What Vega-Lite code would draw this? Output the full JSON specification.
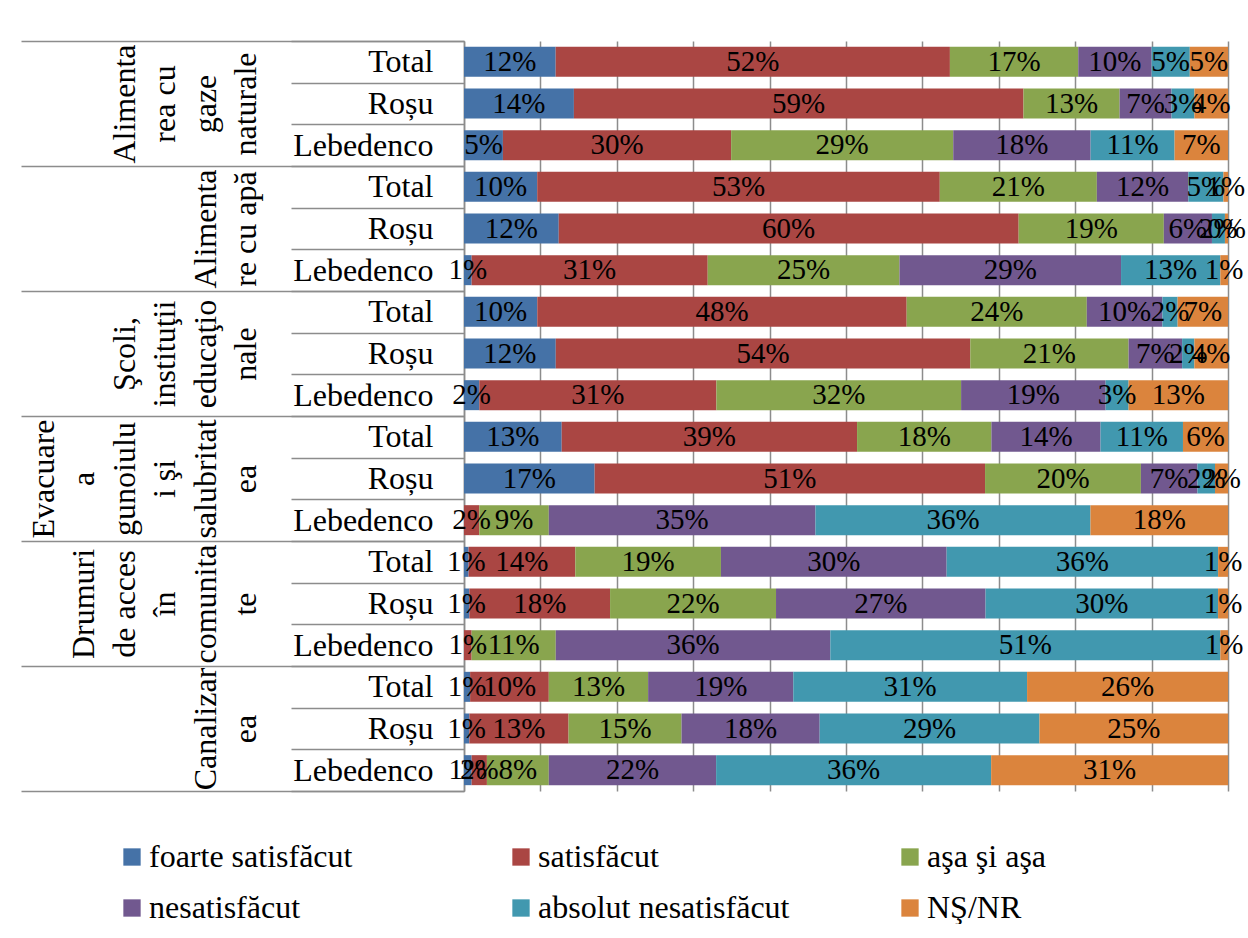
{
  "$schema": "https://vega.github.io/schema/vega-lite/v6.json",
  "width": 764,
  "height": 750,
  "padding": {"left": 20, "top": 25, "right": 0, "bottom": 0},
  "background": "white",
  "config": {
    "view": {"stroke": null},
    "font": "Liberation Serif",
    "legend": {"labelFont": "Liberation Serif"}
  },
  "data": {
    "values": [
      {"c": "Alimentarea cu gaze naturale", "s": "Total", "k": "Total|1", "r": "foarte satisfăcut", "o": 1, "v": 0.120},
      {"c": "Alimentarea cu gaze naturale", "s": "Total", "k": "Total|1", "r": "satisfăcut", "o": 2, "v": 0.516},
      {"c": "Alimentarea cu gaze naturale", "s": "Total", "k": "Total|1", "r": "aşa şi aşa", "o": 3, "v": 0.168},
      {"c": "Alimentarea cu gaze naturale", "s": "Total", "k": "Total|1", "r": "nesatisfăcut", "o": 4, "v": 0.096},
      {"c": "Alimentarea cu gaze naturale", "s": "Total", "k": "Total|1", "r": "absolut nesatisfăcut", "o": 5, "v": 0.050},
      {"c": "Alimentarea cu gaze naturale", "s": "Total", "k": "Total|1", "r": "NŞ/NR", "o": 6, "v": 0.050},
      {"c": "Alimentarea cu gaze naturale", "s": "Roșu", "k": "Roșu|1", "r": "foarte satisfăcut", "o": 1, "v": 0.144},
      {"c": "Alimentarea cu gaze naturale", "s": "Roșu", "k": "Roșu|1", "r": "satisfăcut", "o": 2, "v": 0.589},
      {"c": "Alimentarea cu gaze naturale", "s": "Roșu", "k": "Roșu|1", "r": "aşa şi aşa", "o": 3, "v": 0.126},
      {"c": "Alimentarea cu gaze naturale", "s": "Roșu", "k": "Roșu|1", "r": "nesatisfăcut", "o": 4, "v": 0.068},
      {"c": "Alimentarea cu gaze naturale", "s": "Roșu", "k": "Roșu|1", "r": "absolut nesatisfăcut", "o": 5, "v": 0.030},
      {"c": "Alimentarea cu gaze naturale", "s": "Roșu", "k": "Roșu|1", "r": "NŞ/NR", "o": 6, "v": 0.044},
      {"c": "Alimentarea cu gaze naturale", "s": "Lebedenco", "k": "Lebedenco|1", "r": "foarte satisfăcut", "o": 1, "v": 0.051},
      {"c": "Alimentarea cu gaze naturale", "s": "Lebedenco", "k": "Lebedenco|1", "r": "satisfăcut", "o": 2, "v": 0.299},
      {"c": "Alimentarea cu gaze naturale", "s": "Lebedenco", "k": "Lebedenco|1", "r": "aşa şi aşa", "o": 3, "v": 0.291},
      {"c": "Alimentarea cu gaze naturale", "s": "Lebedenco", "k": "Lebedenco|1", "r": "nesatisfăcut", "o": 4, "v": 0.180},
      {"c": "Alimentarea cu gaze naturale", "s": "Lebedenco", "k": "Lebedenco|1", "r": "absolut nesatisfăcut", "o": 5, "v": 0.110},
      {"c": "Alimentarea cu gaze naturale", "s": "Lebedenco", "k": "Lebedenco|1", "r": "NŞ/NR", "o": 6, "v": 0.070},

      {"c": "Alimentare cu apă", "s": "Total", "k": "Total|2", "r": "foarte satisfăcut", "o": 1, "v": 0.096},
      {"c": "Alimentare cu apă", "s": "Total", "k": "Total|2", "r": "satisfăcut", "o": 2, "v": 0.528},
      {"c": "Alimentare cu apă", "s": "Total", "k": "Total|2", "r": "aşa şi aşa", "o": 3, "v": 0.206},
      {"c": "Alimentare cu apă", "s": "Total", "k": "Total|2", "r": "nesatisfăcut", "o": 4, "v": 0.120},
      {"c": "Alimentare cu apă", "s": "Total", "k": "Total|2", "r": "absolut nesatisfăcut", "o": 5, "v": 0.046},
      {"c": "Alimentare cu apă", "s": "Total", "k": "Total|2", "r": "NŞ/NR", "o": 6, "v": 0.006},
      {"c": "Alimentare cu apă", "s": "Roșu", "k": "Roșu|2", "r": "foarte satisfăcut", "o": 1, "v": 0.124},
      {"c": "Alimentare cu apă", "s": "Roșu", "k": "Roșu|2", "r": "satisfăcut", "o": 2, "v": 0.602},
      {"c": "Alimentare cu apă", "s": "Roșu", "k": "Roșu|2", "r": "aşa şi aşa", "o": 3, "v": 0.190},
      {"c": "Alimentare cu apă", "s": "Roșu", "k": "Roșu|2", "r": "nesatisfăcut", "o": 4, "v": 0.063},
      {"c": "Alimentare cu apă", "s": "Roșu", "k": "Roșu|2", "r": "absolut nesatisfăcut", "o": 5, "v": 0.017},
      {"c": "Alimentare cu apă", "s": "Roșu", "k": "Roșu|2", "r": "NŞ/NR", "o": 6, "v": 0.004},
      {"c": "Alimentare cu apă", "s": "Lebedenco", "k": "Lebedenco|2", "r": "foarte satisfăcut", "o": 1, "v": 0.010},
      {"c": "Alimentare cu apă", "s": "Lebedenco", "k": "Lebedenco|2", "r": "satisfăcut", "o": 2, "v": 0.309},
      {"c": "Alimentare cu apă", "s": "Lebedenco", "k": "Lebedenco|2", "r": "aşa şi aşa", "o": 3, "v": 0.251},
      {"c": "Alimentare cu apă", "s": "Lebedenco", "k": "Lebedenco|2", "r": "nesatisfăcut", "o": 4, "v": 0.290},
      {"c": "Alimentare cu apă", "s": "Lebedenco", "k": "Lebedenco|2", "r": "absolut nesatisfăcut", "o": 5, "v": 0.130},
      {"c": "Alimentare cu apă", "s": "Lebedenco", "k": "Lebedenco|2", "r": "NŞ/NR", "o": 6, "v": 0.010},

      {"c": "Şcoli, instituţii educaţionale", "s": "Total", "k": "Total|3", "r": "foarte satisfăcut", "o": 1, "v": 0.096},
      {"c": "Şcoli, instituţii educaţionale", "s": "Total", "k": "Total|3", "r": "satisfăcut", "o": 2, "v": 0.484},
      {"c": "Şcoli, instituţii educaţionale", "s": "Total", "k": "Total|3", "r": "aşa şi aşa", "o": 3, "v": 0.236},
      {"c": "Şcoli, instituţii educaţionale", "s": "Total", "k": "Total|3", "r": "nesatisfăcut", "o": 4, "v": 0.099},
      {"c": "Şcoli, instituţii educaţionale", "s": "Total", "k": "Total|3", "r": "absolut nesatisfăcut", "o": 5, "v": 0.020},
      {"c": "Şcoli, instituţii educaţionale", "s": "Total", "k": "Total|3", "r": "NŞ/NR", "o": 6, "v": 0.066},
      {"c": "Şcoli, instituţii educaţionale", "s": "Roșu", "k": "Roșu|3", "r": "foarte satisfăcut", "o": 1, "v": 0.120},
      {"c": "Şcoli, instituţii educaţionale", "s": "Roșu", "k": "Roșu|3", "r": "satisfăcut", "o": 2, "v": 0.542},
      {"c": "Şcoli, instituţii educaţionale", "s": "Roșu", "k": "Roșu|3", "r": "aşa şi aşa", "o": 3, "v": 0.207},
      {"c": "Şcoli, instituţii educaţionale", "s": "Roșu", "k": "Roșu|3", "r": "nesatisfăcut", "o": 4, "v": 0.070},
      {"c": "Şcoli, instituţii educaţionale", "s": "Roșu", "k": "Roșu|3", "r": "absolut nesatisfăcut", "o": 5, "v": 0.016},
      {"c": "Şcoli, instituţii educaţionale", "s": "Roșu", "k": "Roșu|3", "r": "NŞ/NR", "o": 6, "v": 0.044},
      {"c": "Şcoli, instituţii educaţionale", "s": "Lebedenco", "k": "Lebedenco|3", "r": "foarte satisfăcut", "o": 1, "v": 0.020},
      {"c": "Şcoli, instituţii educaţionale", "s": "Lebedenco", "k": "Lebedenco|3", "r": "satisfăcut", "o": 2, "v": 0.310},
      {"c": "Şcoli, instituţii educaţionale", "s": "Lebedenco", "k": "Lebedenco|3", "r": "aşa şi aşa", "o": 3, "v": 0.320},
      {"c": "Şcoli, instituţii educaţionale", "s": "Lebedenco", "k": "Lebedenco|3", "r": "nesatisfăcut", "o": 4, "v": 0.189},
      {"c": "Şcoli, instituţii educaţionale", "s": "Lebedenco", "k": "Lebedenco|3", "r": "absolut nesatisfăcut", "o": 5, "v": 0.030},
      {"c": "Şcoli, instituţii educaţionale", "s": "Lebedenco", "k": "Lebedenco|3", "r": "NŞ/NR", "o": 6, "v": 0.130},

      {"c": "Evacuarea gunoiului şi salubritatea", "s": "Total", "k": "Total|4", "r": "foarte satisfăcut", "o": 1, "v": 0.128},
      {"c": "Evacuarea gunoiului şi salubritatea", "s": "Total", "k": "Total|4", "r": "satisfăcut", "o": 2, "v": 0.387},
      {"c": "Evacuarea gunoiului şi salubritatea", "s": "Total", "k": "Total|4", "r": "aşa şi aşa", "o": 3, "v": 0.176},
      {"c": "Evacuarea gunoiului şi salubritatea", "s": "Total", "k": "Total|4", "r": "nesatisfăcut", "o": 4, "v": 0.143},
      {"c": "Evacuarea gunoiului şi salubritatea", "s": "Total", "k": "Total|4", "r": "absolut nesatisfăcut", "o": 5, "v": 0.108},
      {"c": "Evacuarea gunoiului şi salubritatea", "s": "Total", "k": "Total|4", "r": "NŞ/NR", "o": 6, "v": 0.059},
      {"c": "Evacuarea gunoiului şi salubritatea", "s": "Roșu", "k": "Roșu|4", "r": "foarte satisfăcut", "o": 1, "v": 0.171},
      {"c": "Evacuarea gunoiului şi salubritatea", "s": "Roșu", "k": "Roșu|4", "r": "satisfăcut", "o": 2, "v": 0.511},
      {"c": "Evacuarea gunoiului şi salubritatea", "s": "Roșu", "k": "Roșu|4", "r": "aşa şi aşa", "o": 3, "v": 0.204},
      {"c": "Evacuarea gunoiului şi salubritatea", "s": "Roșu", "k": "Roșu|4", "r": "nesatisfăcut", "o": 4, "v": 0.074},
      {"c": "Evacuarea gunoiului şi salubritatea", "s": "Roșu", "k": "Roșu|4", "r": "absolut nesatisfăcut", "o": 5, "v": 0.023},
      {"c": "Evacuarea gunoiului şi salubritatea", "s": "Roșu", "k": "Roșu|4", "r": "NŞ/NR", "o": 6, "v": 0.017},
      {"c": "Evacuarea gunoiului şi salubritatea", "s": "Lebedenco", "k": "Lebedenco|4", "r": "satisfăcut", "o": 2, "v": 0.020},
      {"c": "Evacuarea gunoiului şi salubritatea", "s": "Lebedenco", "k": "Lebedenco|4", "r": "aşa şi aşa", "o": 3, "v": 0.091},
      {"c": "Evacuarea gunoiului şi salubritatea", "s": "Lebedenco", "k": "Lebedenco|4", "r": "nesatisfăcut", "o": 4, "v": 0.349},
      {"c": "Evacuarea gunoiului şi salubritatea", "s": "Lebedenco", "k": "Lebedenco|4", "r": "absolut nesatisfăcut", "o": 5, "v": 0.360},
      {"c": "Evacuarea gunoiului şi salubritatea", "s": "Lebedenco", "k": "Lebedenco|4", "r": "NŞ/NR", "o": 6, "v": 0.180},

      {"c": "Drumuri de acces în comunitate", "s": "Total", "k": "Total|5", "r": "foarte satisfăcut", "o": 1, "v": 0.006},
      {"c": "Drumuri de acces în comunitate", "s": "Total", "k": "Total|5", "r": "satisfăcut", "o": 2, "v": 0.140},
      {"c": "Drumuri de acces în comunitate", "s": "Total", "k": "Total|5", "r": "aşa şi aşa", "o": 3, "v": 0.191},
      {"c": "Drumuri de acces în comunitate", "s": "Total", "k": "Total|5", "r": "nesatisfăcut", "o": 4, "v": 0.296},
      {"c": "Drumuri de acces în comunitate", "s": "Total", "k": "Total|5", "r": "absolut nesatisfăcut", "o": 5, "v": 0.356},
      {"c": "Drumuri de acces în comunitate", "s": "Total", "k": "Total|5", "r": "NŞ/NR", "o": 6, "v": 0.013},
      {"c": "Drumuri de acces în comunitate", "s": "Roșu", "k": "Roșu|5", "r": "foarte satisfăcut", "o": 1, "v": 0.007},
      {"c": "Drumuri de acces în comunitate", "s": "Roșu", "k": "Roșu|5", "r": "satisfăcut", "o": 2, "v": 0.184},
      {"c": "Drumuri de acces în comunitate", "s": "Roșu", "k": "Roșu|5", "r": "aşa şi aşa", "o": 3, "v": 0.217},
      {"c": "Drumuri de acces în comunitate", "s": "Roșu", "k": "Roșu|5", "r": "nesatisfăcut", "o": 4, "v": 0.274},
      {"c": "Drumuri de acces în comunitate", "s": "Roșu", "k": "Roșu|5", "r": "absolut nesatisfăcut", "o": 5, "v": 0.304},
      {"c": "Drumuri de acces în comunitate", "s": "Roșu", "k": "Roșu|5", "r": "NŞ/NR", "o": 6, "v": 0.013},
      {"c": "Drumuri de acces în comunitate", "s": "Lebedenco", "k": "Lebedenco|5", "r": "satisfăcut", "o": 2, "v": 0.010},
      {"c": "Drumuri de acces în comunitate", "s": "Lebedenco", "k": "Lebedenco|5", "r": "aşa şi aşa", "o": 3, "v": 0.110},
      {"c": "Drumuri de acces în comunitate", "s": "Lebedenco", "k": "Lebedenco|5", "r": "nesatisfăcut", "o": 4, "v": 0.359},
      {"c": "Drumuri de acces în comunitate", "s": "Lebedenco", "k": "Lebedenco|5", "r": "absolut nesatisfăcut", "o": 5, "v": 0.510},
      {"c": "Drumuri de acces în comunitate", "s": "Lebedenco", "k": "Lebedenco|5", "r": "NŞ/NR", "o": 6, "v": 0.010},

      {"c": "Canalizarea", "s": "Total", "k": "Total|6", "r": "foarte satisfăcut", "o": 1, "v": 0.008},
      {"c": "Canalizarea", "s": "Total", "k": "Total|6", "r": "satisfăcut", "o": 2, "v": 0.103},
      {"c": "Canalizarea", "s": "Total", "k": "Total|6", "r": "aşa şi aşa", "o": 3, "v": 0.130},
      {"c": "Canalizarea", "s": "Total", "k": "Total|6", "r": "nesatisfăcut", "o": 4, "v": 0.190},
      {"c": "Canalizarea", "s": "Total", "k": "Total|6", "r": "absolut nesatisfăcut", "o": 5, "v": 0.306},
      {"c": "Canalizarea", "s": "Total", "k": "Total|6", "r": "NŞ/NR", "o": 6, "v": 0.263},
      {"c": "Canalizarea", "s": "Roșu", "k": "Roșu|6", "r": "foarte satisfăcut", "o": 1, "v": 0.007},
      {"c": "Canalizarea", "s": "Roșu", "k": "Roșu|6", "r": "satisfăcut", "o": 2, "v": 0.130},
      {"c": "Canalizarea", "s": "Roșu", "k": "Roșu|6", "r": "aşa şi aşa", "o": 3, "v": 0.148},
      {"c": "Canalizarea", "s": "Roșu", "k": "Roșu|6", "r": "nesatisfăcut", "o": 4, "v": 0.181},
      {"c": "Canalizarea", "s": "Roșu", "k": "Roșu|6", "r": "absolut nesatisfăcut", "o": 5, "v": 0.288},
      {"c": "Canalizarea", "s": "Roșu", "k": "Roșu|6", "r": "NŞ/NR", "o": 6, "v": 0.247},
      {"c": "Canalizarea", "s": "Lebedenco", "k": "Lebedenco|6", "r": "foarte satisfăcut", "o": 1, "v": 0.010},
      {"c": "Canalizarea", "s": "Lebedenco", "k": "Lebedenco|6", "r": "satisfăcut", "o": 2, "v": 0.020},
      {"c": "Canalizarea", "s": "Lebedenco", "k": "Lebedenco|6", "r": "aşa şi aşa", "o": 3, "v": 0.081},
      {"c": "Canalizarea", "s": "Lebedenco", "k": "Lebedenco|6", "r": "nesatisfăcut", "o": 4, "v": 0.219},
      {"c": "Canalizarea", "s": "Lebedenco", "k": "Lebedenco|6", "r": "absolut nesatisfăcut", "o": 5, "v": 0.360},
      {"c": "Canalizarea", "s": "Lebedenco", "k": "Lebedenco|6", "r": "NŞ/NR", "o": 6, "v": 0.310}
    ]
  },
  "layer": [
    {
      "layer": [
        {
          "mark": {"type": "bar", "height": {"band": 0.72}},
          "encoding": {
            "y": {
              "field": "k", "type": "nominal", "sort": null,
              "scale": {"type": "band", "paddingInner": 0, "paddingOuter": 0},
              "axis": {
                "title": null,
                "orient": "left",
                "offset": 0,
                "tickBand": "extent",
                "tickSize": 173,
                "tickColor": "#8c8c8c",
                "tickWidth": 1.5,
                "domainColor": "#8c8c8c",
                "domainWidth": 1.5,
                "labelPadding": -142,
                "labelAlign": "right",
                "labelBaseline": "middle",
                "labelFont": "Liberation Serif",
                "labelFontSize": 32,
                "labelColor": "#000000",
                "labelLimit": 0,
                "labelOverlap": false,
                "labelExpr": "indexof('' + datum.value, '|') >= 0 ? split('' + datum.value, '|')[0] : ''"
              }
            },
            "x": {
              "field": "v", "type": "quantitative", "stack": "normalize",
              "scale": {"domain": [0, 1], "nice": false},
              "axis": {
                "title": null, "labels": false, "ticks": false, "domain": false,
                "grid": true, "gridColor": "#8c8c8c", "gridWidth": 1.5,
                "values": [0, 0.1, 0.2, 0.3, 0.4, 0.5, 0.6, 0.7, 0.8, 0.9, 1]
              }
            },
            "order": {"field": "o", "type": "quantitative"},
            "color": {
              "field": "r", "type": "nominal",
              "scale": {
                "domain": ["foarte satisfăcut", "satisfăcut", "aşa şi aşa", "nesatisfăcut", "absolut nesatisfăcut", "NŞ/NR"],
                "range": ["#4572A7", "#AA4643", "#89A54E", "#71588F", "#4198AF", "#DB843D"]
              },
              "legend": {
                "title": null,
                "orient": "none",
                "legendX": -348,
                "legendY": 800,
                "direction": "horizontal",
                "columns": 3,
                "symbolType": "square",
                "symbolSize": 300,
                "symbolStrokeWidth": 0,
                "labelFont": "Liberation Serif",
                "labelFontSize": 32,
                "labelColor": "#000000",
                "labelOffset": 1,
                "labelLimit": 0,
                "columnPadding": 104,
                "rowPadding": 19,
                "gridAlign": "all"
              }
            }
          }
        },
        {
          "mark": {"type": "text", "font": "Liberation Serif", "fontSize": 29, "color": "#000000", "baseline": "middle", "align": "center"},
          "encoding": {
            "y": {"field": "k", "type": "nominal", "sort": null, "scale": {"type": "band", "paddingInner": 0, "paddingOuter": 0}},
            "x": {"field": "v", "type": "quantitative", "stack": "normalize", "bandPosition": 0.5},
            "order": {"field": "o", "type": "quantitative"},
            "detail": {"field": "r", "type": "nominal"},
            "text": {"field": "v", "type": "quantitative", "format": ".0%"}
          }
        }
      ]
    },
    {
      "mark": {"type": "rule", "opacity": 0},
      "encoding": {
        "y": {
          "field": "c", "type": "nominal", "sort": null,
          "scale": {"type": "band", "paddingInner": 0, "paddingOuter": 0},
          "axis": {
            "title": null,
            "orient": "left",
            "offset": 0,
            "domain": false,
            "tickBand": "extent",
            "tickSize": 443,
            "tickColor": "#8c8c8c",
            "tickWidth": 1.5,
            "labelAngle": 270,
            "labelAlign": "center",
            "labelBaseline": "bottom",
            "labelPadding": -39,
            "labelFont": "Liberation Serif",
            "labelFontSize": 32,
            "labelLineHeight": 40.5,
            "labelColor": "#000000",
            "labelLimit": 0,
            "labelOverlap": false,
            "labelExpr": "datum.value == 'Alimentarea cu gaze naturale' ? ['\u2800','\u2800','Alimenta','rea cu','gaze','naturale'] : datum.value == 'Alimentare cu apă' ? ['\u2800','\u2800','\u2800','\u2800','Alimenta','re cu apă'] : datum.value == 'Şcoli, instituţii educaţionale' ? ['\u2800','\u2800','Şcoli,','instituţii','educaţio','nale'] : datum.value == 'Evacuarea gunoiului şi salubritatea' ? ['Evacuare','a','gunoiulu','i şi','salubritat','ea'] : datum.value == 'Drumuri de acces în comunitate' ? ['\u2800','Drumuri','de acces','în','comunita','te'] : datum.value == 'Canalizarea' ? ['\u2800','\u2800','\u2800','\u2800','Canalizar','ea'] : ''"
          }
        }
      }
    }
  ],
  "resolve": {"scale": {"y": "independent"}, "axis": {"y": "independent"}}
}
